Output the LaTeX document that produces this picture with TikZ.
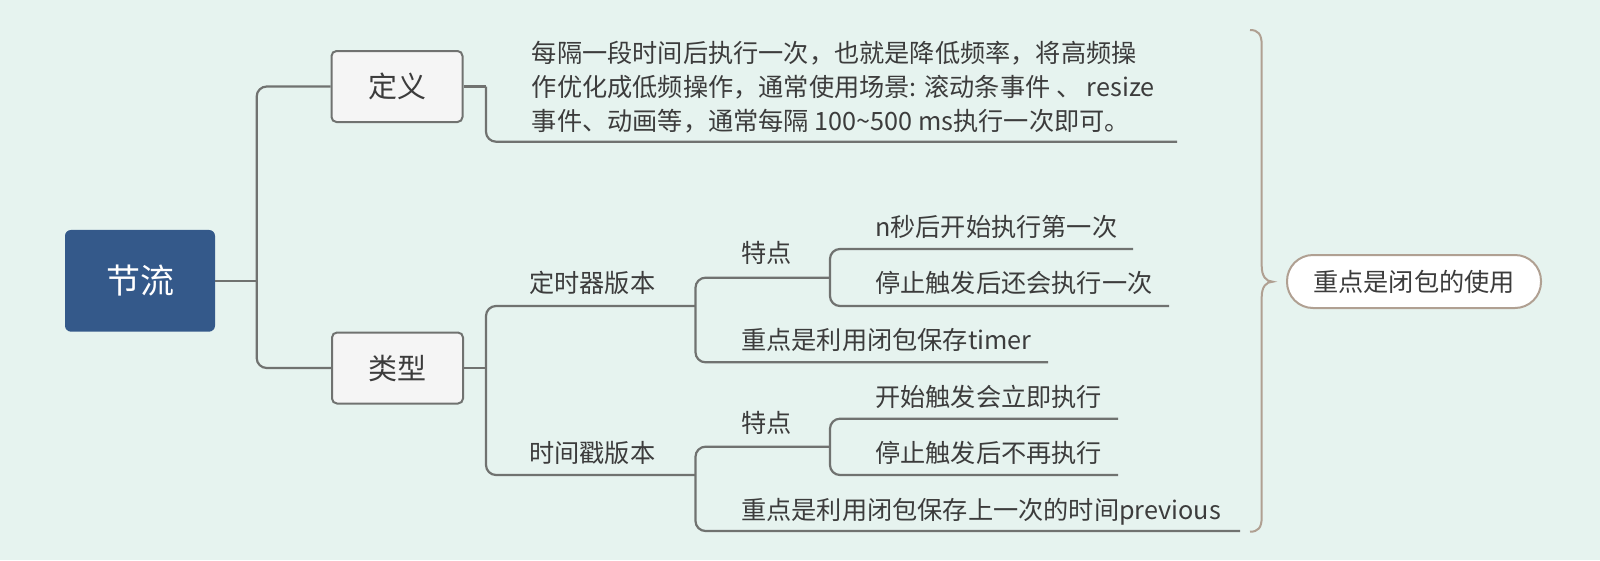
\documentclass[tikz,border=0pt]{standalone}
\usepackage{fontspec}
\setmainfont{Noto Sans CJK SC}
\definecolor{bgc}{RGB}{230,243,239}
\definecolor{rootc}{RGB}{52,89,138}
\definecolor{linec}{RGB}{112,114,112}
\definecolor{txtc}{RGB}{60,60,60}
\definecolor{boxc}{RGB}{245,245,245}
\definecolor{bracec}{RGB}{176,160,146}
\begin{document}
\begin{tikzpicture}[x=1pt,y=-1pt,
  conn/.style={draw=linec,line width=2.2pt},
  rc/.style={rounded corners=10pt},
  lbl/.style={anchor=west,inner sep=0pt,text=txtc,font=\fontsize{25.2}{32.5}\selectfont,text height=21pt,text depth=2pt},
  para/.style={anchor=west,inner sep=0pt,text=txtc,font=\fontsize{25.2}{33.8}\selectfont,align=left},
  subbox/.style={draw=linec,line width=2pt,fill=boxc,rounded corners=5pt,minimum width=131pt,minimum height=71pt,inner sep=0pt,text=txtc,font=\fontsize{29}{34}\selectfont},
  rootbox/.style={fill=rootc,rounded corners=6pt,minimum width=150pt,minimum height=101.7pt,inner sep=0pt,text=white,font=\fontsize{34}{40}\selectfont},
  notebox/.style={draw=bracec,line width=2pt,fill=white,rounded corners=26pt,minimum width=254pt,minimum height=53pt,inner sep=0pt,text=txtc,font=\fontsize{25.2}{30}\selectfont},
  bracel/.style={draw=bracec,line width=2pt}
]
\fill[bgc] (0,0) rectangle (1600,560);
\useasboundingbox (0,0) rectangle (1600,560);

% nodes
\node[rootbox] (root) at (140,280.8) {节流};
\node[subbox] (def) at (397,86.5) {定义};
\node[subbox] (typ) at (397.5,368) {类型};

\node[para] (deftxt) at (531.7,87) {每隔一段时间后执行一次，也就是降低频率，将高频操\\作优化成低频操作，通常使用场景: 滚动条事件 、 resize\\事件、动画等，通常每隔 100\textasciitilde 500 ms执行一次即可。};

\node[lbl] (t1) at (529,283) {定时器版本};
\node[lbl] (t2) at (529,453) {时间戳版本};
\node[lbl] (f1) at (741,253) {特点};
\node[lbl] (f2) at (741,423.3) {特点};
\node[lbl] (a1) at (875,226.7) {n秒后开始执行第一次};
\node[lbl] (a2) at (875,283) {停止触发后还会执行一次};
\node[lbl] (a3) at (741,340) {重点是利用闭包保存timer};
\node[lbl] (b1) at (875,396.7) {开始触发会立即执行};
\node[lbl] (b2) at (875,453) {停止触发后不再执行};
\node[lbl] (b3) at (741,510) {重点是利用闭包保存上一次的时间previous};

\node[notebox] (note) at (1414,281.5) {重点是闭包的使用};

% junction coordinates
\coordinate (j0) at (256.7,280.8);
\coordinate (j1) at (486,86.5);
\coordinate (defEnd) at (1177,141.7);
\coordinate (j2) at (486,368);
\coordinate (k1) at (695.5,306);
\coordinate (k2) at (695.5,475);
\coordinate (m1) at (830,277.7);
\coordinate (m2) at (830,446.7);
\coordinate (a1End) at (1133,249);
\coordinate (a2End) at (1169,306);
\coordinate (a3End) at (1048,362.3);
\coordinate (b1End) at (1118,418.7);
\coordinate (b2End) at (1118,475);
\coordinate (b3End) at (1240,531);

% connectors
\draw[conn] (root.east) -- (j0);
\draw[conn,rc] (def.west) -| (j0) |- (typ.west);
\draw[conn] (def.east) -- (j1);
\draw[conn,rc] (j1) |- (defEnd);
\draw[conn] (typ.east) -- (j2);
\draw[conn,rc] (k1) -| (j2) |- (k2);
\draw[conn,rc] (m1) -| (k1) |- (a3End);
\draw[conn,rc] (a1End) -| (m1) |- (a2End);
\draw[conn,rc] (m2) -| (k2) |- (b3End);
\draw[conn,rc] (b1End) -| (m2) |- (b2End);

% brace
\coordinate (brTop) at (1250,30);
\coordinate (brTip) at (1272.7,281.7);
\coordinate (brBot) at (1250,531.7);
\draw[bracel] (brTop) .. controls (1258,30) and (1261.7,34) .. (1261.7,45)
  -- (1261.7,266) .. controls (1261.7,276) and (1266,281.7) .. (brTip)
  .. controls (1266,281.7) and (1261.7,287) .. (1261.7,297)
  -- (1261.7,517) .. controls (1261.7,528) and (1258,531.7) .. (brBot);
\end{tikzpicture}
\end{document}
